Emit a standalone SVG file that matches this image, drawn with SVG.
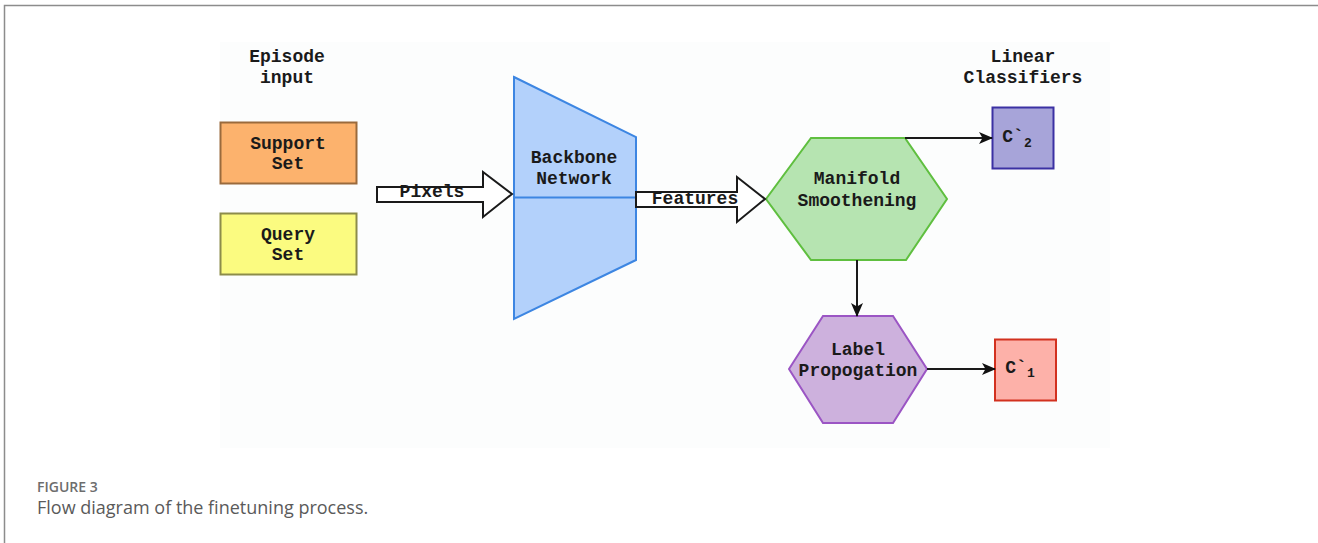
<svg xmlns="http://www.w3.org/2000/svg" width="1318" height="543" viewBox="0 0 1318 543">
  <defs>
    <marker id="arrow" viewBox="0 0 14 12" refX="13" refY="6" markerWidth="14" markerHeight="12" markerUnits="userSpaceOnUse" orient="auto">
      <path d="M0,0 L14,6 L0,12 L3.5,6 z" fill="#111"/>
    </marker>
  </defs>
  <style>
    .lbl { font-family: "Liberation Mono", "Courier New", monospace; font-weight: bold; font-size: 18px; fill: #1a1a1a; text-anchor: middle; }
    .sub { font-size: 13px; }
    .link { stroke: #1a1a1a; stroke-width: 2; fill: none; }
    .fat { fill: #ffffff; stroke: #1a1a1a; stroke-width: 2; stroke-linejoin: miter; }
    .cap1 { font-family: "Open Sans", "Liberation Sans", sans-serif; font-size: 14px; font-weight: 600; fill: #6d6d6d; }
    .cap2 { font-family: "Open Sans", "Liberation Sans", sans-serif; font-size: 18px; fill: #5a5a5a; }
  </style>

  <rect width="1318" height="543" fill="#ffffff"/>
  <!-- figure frame: top and left rules -->
  <path d="M4.5,543 V5.5 H1318" fill="none" stroke="#8c8c8c" stroke-width="1.5"/>
  <!-- drawing area -->
  <rect x="220" y="42" width="890" height="406" fill="#fcfdfd"/>

  <!-- column headings -->
  <g id="episode-input">
    <text class="lbl" x="287" y="62">Episode</text>
    <text class="lbl" x="287" y="83">input</text>
  </g>
  <g id="linear-classifiers">
    <text class="lbl" x="1023" y="62">Linear</text>
    <text class="lbl" x="1023" y="83">Classifiers</text>
  </g>

  <g id="support-set">
    <rect x="220.5" y="122.5" width="136" height="61" fill="#fcb26d" stroke="#9a6a3c" stroke-width="2"/>
    <text class="lbl" x="288" y="149">Support</text>
    <text class="lbl" x="288" y="169">Set</text>
  </g>

  <g id="query-set">
    <rect x="220.5" y="213.5" width="136" height="61" fill="#fbfb80" stroke="#8c8c4a" stroke-width="2"/>
    <text class="lbl" x="288" y="240">Query</text>
    <text class="lbl" x="288" y="260">Set</text>
  </g>

  <g id="backbone-network">
    <polygon points="514,77 636,137 636,260 514,319" fill="#b3d1fb" stroke="#3d86e2" stroke-width="2"/>
    <line x1="514" y1="197.5" x2="636" y2="197.5" stroke="#3d86e2" stroke-width="2"/>
    <text class="lbl" x="574" y="163">Backbone</text>
    <text class="lbl" x="574" y="184">Network</text>
  </g>

  <g id="manifold-smoothening">
    <polygon points="766,199 811,138 905,138 947,199 906,260 811,260" fill="#b6e4b1" stroke="#5fbf3f" stroke-width="2"/>
    <text class="lbl" x="857" y="184">Manifold</text>
    <text class="lbl" x="857" y="206">Smoothening</text>
  </g>

  <g id="label-propogation">
    <polygon points="789,369 823,316 893,316 927,369 893,423 823,423" fill="#cdb1dd" stroke="#9b55c4" stroke-width="2"/>
    <text class="lbl" x="858" y="355">Label</text>
    <text class="lbl" x="858" y="376">Propogation</text>
  </g>

  <g id="classifier-c2">
    <rect x="992.5" y="107.5" width="61" height="61" fill="#a7a4d9" stroke="#3b31a3" stroke-width="2"/>
    <text class="lbl" x="1017" y="142">C`<tspan class="sub" dy="5">2</tspan></text>
  </g>

  <g id="classifier-c1">
    <rect x="995" y="339.5" width="61" height="61" fill="#fdb1a9" stroke="#d2311f" stroke-width="2"/>
    <text class="lbl" x="1020" y="373">C`<tspan class="sub" dy="4">1</tspan></text>
  </g>

  <g id="connectors">
    <!-- block arrows carrying pixels and features -->
    <polygon class="fat" points="377,187 483,187 483,172 512,194 483,217 483,202 377,202"/>
    <text class="lbl" x="432" y="197">Pixels</text>
    <polygon class="fat" points="636,192 737,192 737,177 765,199 737,222 737,207 636,207"/>
    <text class="lbl" x="695" y="204">Features</text>
    <!-- thin connectors -->
    <line class="link" x1="905" y1="138" x2="992" y2="138" marker-end="url(#arrow)"/>
    <line class="link" x1="857" y1="260" x2="857" y2="316" marker-end="url(#arrow)"/>
    <line class="link" x1="927" y1="369" x2="995" y2="369" marker-end="url(#arrow)"/>
  </g>

  <!-- caption -->
  <text class="cap1" x="37" y="492">FIGURE 3</text>
  <text class="cap2" x="37" y="514">Flow diagram of the finetuning process.</text>
</svg>
